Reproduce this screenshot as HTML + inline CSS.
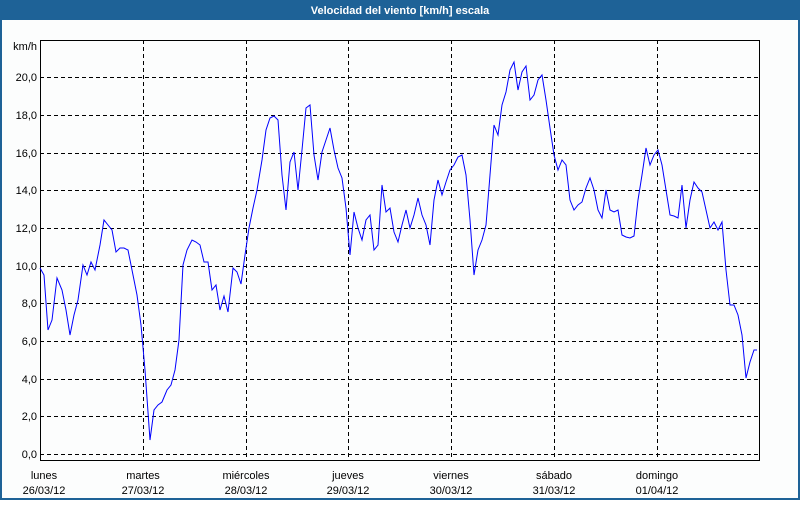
<!DOCTYPE html>
<html><head><meta charset="utf-8"><style>
body{margin:0;width:800px;height:500px;overflow:hidden;background:#fff;font-family:"Liberation Sans",sans-serif}
</style></head><body>
<svg width="800" height="500" xmlns="http://www.w3.org/2000/svg" font-family="Liberation Sans, sans-serif" font-size="11">
<rect x="0" y="0" width="800" height="500" fill="#1e6297"/>
<rect x="2" y="20" width="796" height="478" fill="#fcfdfd"/>
<text x="400" y="14" fill="#fff" font-weight="bold" text-anchor="middle">Velocidad del viento [km/h] escala</text>
<g stroke="#000" stroke-width="1" stroke-dasharray="4,3" fill="none">
<path d="M40 454.5H760M40 416.5H760M40 379.5H760M40 341.5H760M40 303.5H760M40 266.5H760M40 228.5H760M40 190.5H760M40 153.5H760M40 115.5H760M40 77.5H760"/>
<path d="M143.5 40V460M246.5 40V460M348.5 40V460M451.5 40V460M554.5 40V460M657.5 40V460"/>
</g>
<rect x="40.5" y="40.5" width="719" height="420" fill="none" stroke="#000"/>
<g fill="#000" text-anchor="end">
<text x="37" y="50">km/h</text>
<text x="37" y="81">20,0</text><text x="37" y="119">18,0</text><text x="37" y="157">16,0</text><text x="37" y="194">14,0</text><text x="37" y="232">12,0</text><text x="37" y="270">10,0</text><text x="37" y="307">8,0</text><text x="37" y="345">6,0</text><text x="37" y="383">4,0</text><text x="37" y="420">2,0</text><text x="37" y="458">0,0</text>
</g>
<g fill="#000" text-anchor="middle">
<text x="44" y="479">lunes</text><text x="44" y="494">26/03/12</text>
<text x="143" y="479">martes</text><text x="143" y="494">27/03/12</text>
<text x="246" y="479">miércoles</text><text x="246" y="494">28/03/12</text>
<text x="348" y="479">jueves</text><text x="348" y="494">29/03/12</text>
<text x="451" y="479">viernes</text><text x="451" y="494">30/03/12</text>
<text x="554" y="479">sábado</text><text x="554" y="494">31/03/12</text>
<text x="657" y="479">domingo</text><text x="657" y="494">01/04/12</text>
</g>
<polyline fill="none" stroke="#0000ff" stroke-width="1" points="40,268 44,275 48,330 52,320 57,278 62,290 66,310 70,335 74,315 78,300 83,265 87,275 91,262 95,270 100,245 104,220 108,225 112,230 116,252 120,248 124,248 128,250 132,270 137,295 141,325 145,370 150,440 154,410 158,405 162,402 167,390 171,385 175,370 179,340 183,265 187,250 192,240 196,242 200,245 204,262 208,262 212,290 216,285 220,310 224,296 228,312 233,268 237,272 241,284 245,255 249,228 253,208 257,190 262,160 266,130 270,118 274,116 278,120 282,175 286,210 290,162 294,152 298,190 302,150 306,108 310,105 314,155 318,180 322,152 326,140 330,128 334,150 338,168 342,178 346,208 350,255 354,212 358,228 362,240 366,220 370,215 374,250 378,245 382,185 386,212 390,208 394,232 398,242 402,225 406,210 410,228 414,215 418,198 422,215 426,225 430,245 434,200 438,180 442,195 446,182 450,170 454,165 458,157 462,155 466,175 470,220 474,275 478,250 482,240 486,225 490,175 494,125 498,135 502,105 506,92 510,70 514,62 518,90 522,72 526,66 530,100 534,95 538,80 542,75 546,100 550,128 554,155 558,170 562,160 566,165 570,200 574,210 578,205 582,202 586,188 590,178 594,190 598,210 602,218 606,190 610,210 614,212 618,210 622,235 626,237 630,238 634,236 638,200 642,175 646,148 650,165 654,155 658,150 662,165 666,190 670,215 674,216 678,218 682,185 686,228 690,200 694,182 698,188 702,192 706,210 710,228 714,222 718,230 722,222 726,270 730,305 734,305 738,315 742,335 746,378 750,362 754,350 757,350"/>
</svg>
</body></html>
